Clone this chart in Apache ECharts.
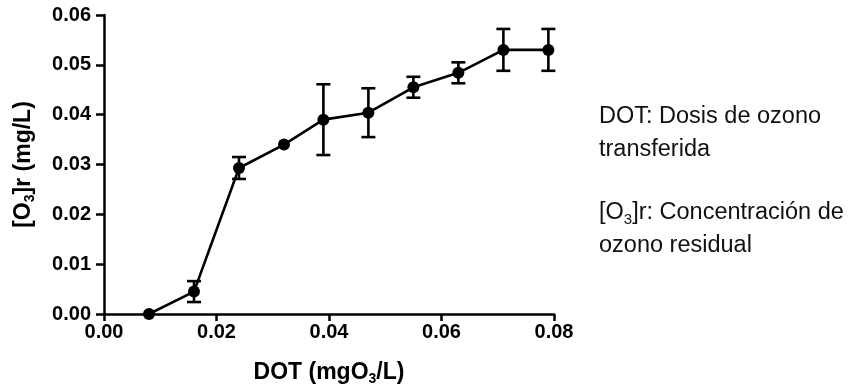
<!DOCTYPE html>
<html>
<head>
<meta charset="utf-8">
<script src="https://cdn.jsdelivr.net/npm/echarts@6/dist/echarts.min.js"></script>
<style>
  html, body { margin: 0; padding: 0; background: #ffffff; }
  #chart { width: 850px; height: 391px; }
</style>
</head>
<body>
<div id="chart"></div>
<script>
// Transferred ozone dose (mgO3/L) and residual ozone concentration (mg/L)
const dot = [0.008, 0.016, 0.024, 0.032, 0.039, 0.047, 0.055, 0.063, 0.071, 0.079];
const o3r = [0.0000, 0.0045, 0.0293, 0.0340, 0.0390, 0.0404, 0.0455, 0.0484, 0.0530, 0.0530];
// Standard deviation of each mean
const sd  = [0.0000, 0.0021, 0.0022, 0.0000, 0.0071, 0.0049, 0.0021, 0.0021, 0.0042, 0.0042];

const xTicks = { min: 0, max: 0.08, interval: 0.02 };
const yTicks = { min: 0, max: 0.06, interval: 0.01 };

const FONT = '"Liberation Sans", Arial, sans-serif';

const lineData = dot.map((x, i) => [x, o3r[i]]);
const errData = dot.map((x, i) => [x, o3r[i] - sd[i], o3r[i] + sd[i]]);

const chart = echarts.init(document.getElementById('chart'), null, { renderer: 'canvas' });

chart.setOption({
  animation: false,
  backgroundColor: '#ffffff',
  grid: { left: 104, right: 296, top: 15, bottom: 77, containLabel: false },
  xAxis: {
    type: 'value',
    min: xTicks.min, max: xTicks.max, interval: xTicks.interval,
    name: 'DOT (mgO{sub|3}/L)',
    nameLocation: 'middle',
    nameGap: 45,
    nameTextStyle: {
      fontFamily: FONT, fontWeight: 'bold', fontSize: 23, color: '#000',
      rich: { sub: { fontFamily: FONT, fontWeight: 'bold', fontSize: 14, color: '#000', verticalAlign: 'bottom', padding: [13, 0, 0, 0] } }
    },
    axisLine: { show: true, onZero: false, lineStyle: { color: '#000', width: 2.5 } },
    axisTick: { show: true, inside: false, length: 7, lineStyle: { color: '#000', width: 2.5 } },
    axisLabel: {
      fontFamily: FONT, fontWeight: 'bold', fontSize: 20, color: '#000', margin: 8,
      formatter: v => v.toFixed(2)
    },
    splitLine: { show: false }
  },
  yAxis: {
    type: 'value',
    min: yTicks.min, max: yTicks.max, interval: yTicks.interval,
    name: '[O{sub|3}]r (mg/L)',
    nameLocation: 'middle',
    nameGap: 67,
    nameRotate: 90,
    nameTextStyle: {
      fontFamily: FONT, fontWeight: 'bold', fontSize: 23, color: '#000',
      rich: { sub: { fontFamily: FONT, fontWeight: 'bold', fontSize: 14, color: '#000', verticalAlign: 'bottom', padding: [13, 0, 0, 0] } }
    },
    axisLine: { show: true, onZero: false, lineStyle: { color: '#000', width: 2.5 } },
    axisTick: { show: true, inside: false, length: 8, lineStyle: { color: '#000', width: 2.5 } },
    axisLabel: {
      fontFamily: FONT, fontWeight: 'bold', fontSize: 20, color: '#000', margin: 13,
      formatter: v => v.toFixed(2)
    },
    splitLine: { show: false }
  },
  series: [
    {
      type: 'custom',
      name: 'sd',
      clip: false,
      z: 3,
      data: errData,
      renderItem(params, api) {
        const x = api.value(0), lo = api.value(1), hi = api.value(2);
        if (hi - lo <= 0) return null;
        const top = api.coord([x, hi]);
        const bot = api.coord([x, lo]);
        const w = 7;
        const st = { stroke: '#000', lineWidth: 2.6 };
        return {
          type: 'group',
          children: [
            { type: 'line', shape: { x1: top[0], y1: top[1], x2: bot[0], y2: bot[1] }, style: st },
            { type: 'line', shape: { x1: top[0] - w, y1: top[1], x2: top[0] + w, y2: top[1] }, style: st },
            { type: 'line', shape: { x1: bot[0] - w, y1: bot[1], x2: bot[0] + w, y2: bot[1] }, style: st }
          ]
        };
      }
    },
    {
      type: 'line',
      name: '[O3]r',
      data: lineData,
      clip: false,
      z: 4,
      symbol: 'circle',
      symbolSize: 12,
      lineStyle: { color: '#000', width: 2.6 },
      itemStyle: { color: '#000' }
    }
  ],
  graphic: [
    {
      type: 'text', left: 599, top: 100,
      style: {
        text: 'DOT: Dosis de ozono\ntransferida',
        fontFamily: FONT, fontSize: 23.5, lineHeight: 33, fill: '#111'
      }
    },
    {
      type: 'text', left: 599, top: 196,
      style: {
        text: '[O{sub|3}]r: Concentración de\n{n|ozono residual}',
        fontFamily: FONT, fontSize: 23.5, lineHeight: 33, fill: '#111',
        rich: {
          sub: { fontFamily: FONT, fontSize: 15, fill: '#111', padding: [14, 0, 0, 0], lineHeight: 33 },
          n: { fontFamily: FONT, fontSize: 23.5, fill: '#111', lineHeight: 33 }
        }
      }
    }
  ]
});
</script>
</body>
</html>
